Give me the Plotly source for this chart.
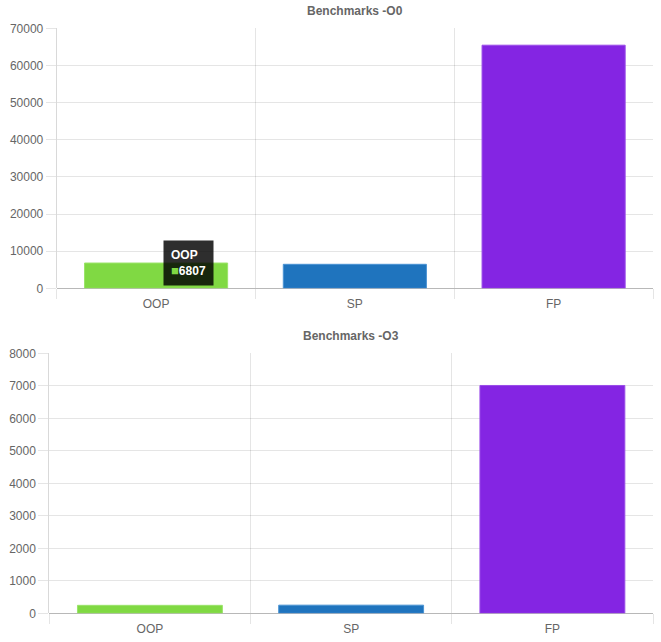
import plotly.graph_objects as go

categories = ["OOP", "SP", "FP"]
values_o0 = [6807, 6460, 65450]
values_o3 = [245, 250, 7010]
colors = ["#80d943", "#1f74be", "#8425e3"]
border_colors = ["#9be46a", "#4a93d4", "#9a4ce8"]
y_ticks_o0 = [0, 10000, 20000, 30000, 40000, 50000, 60000, 70000]
y_ticks_o3 = [0, 1000, 2000, 3000, 4000, 5000, 6000, 7000, 8000]

W, H = 661, 642
FONT = "Liberation Sans, Arial, Helvetica, sans-serif"
GRID = "rgba(0,0,0,0.1)"
ZERO = "rgba(0,0,0,0.28)"

def px_x(p):
    return p / W

def px_y(p):
    return 1 - p / H

fig = go.Figure()
fig.add_trace(go.Bar(x=categories, y=values_o0, marker=dict(color=colors, line=dict(color=border_colors, width=1)),
                     width=0.72, xaxis="x", yaxis="y", hoverinfo="skip"))
fig.add_trace(go.Bar(x=categories, y=values_o3, marker=dict(color=colors, line=dict(color=border_colors, width=1)),
                     width=0.72, xaxis="x2", yaxis="y2", hoverinfo="skip"))

def xaxis(domain, anchor):
    return dict(domain=domain, anchor=anchor, type="category", tickson="boundaries",
                showgrid=True, gridcolor=GRID, gridwidth=1, ticks="outside", ticklen=10,
                tickcolor=GRID, showline=False, zeroline=False, automargin=False,
                ticklabelstandoff=7,
                tickfont=dict(family=FONT, size=12, color="#666"), range=[-0.5, 2.5])

def yaxis(domain, anchor, ticks, top):
    return dict(domain=domain, anchor=anchor, range=[0, top], tickvals=ticks, tickformat="d",
                showgrid=True, gridcolor=GRID, ticks="outside", ticklen=10, tickcolor=GRID,
                zeroline=True, zerolinecolor=ZERO, zerolinewidth=1, automargin=False,
                showline=True, linecolor="rgba(0,0,0,0.15)", linewidth=1,
                tickfont=dict(family=FONT, size=12, color="#666"))

fig.update_layout(
    width=W, height=H, margin=dict(l=0, r=0, t=0, b=0),
    paper_bgcolor="white", plot_bgcolor="white", showlegend=False,
    xaxis=xaxis([px_x(56.7), px_x(653)], "y"),
    yaxis=yaxis([px_y(288.3), px_y(28.3)], "x", y_ticks_o0, 70000),
    xaxis2=xaxis([px_x(49.3), px_x(653)], "y2"),
    yaxis2=yaxis([px_y(613.3), px_y(353.3)], "x2", y_ticks_o3, 8000),
    annotations=[
        dict(text="<b>Benchmarks -O0</b>", xref="paper", yref="paper", x=px_x(355), y=px_y(11),
             xanchor="center", yanchor="middle", showarrow=False,
             font=dict(family=FONT, size=12, color="#666")),
        dict(text="<b>Benchmarks -O3</b>", xref="paper", yref="paper", x=px_x(351), y=px_y(336),
             xanchor="center", yanchor="middle", showarrow=False,
             font=dict(family=FONT, size=12, color="#666")),
        dict(text="<b>OOP</b><br><span style='color:%s;font-size:13px'>■</span><b>%d</b>" % (colors[0], values_o0[0]),
             xref="x", yref="y", x=categories[0], y=values_o0[0], xanchor="left", yanchor="middle",
             xshift=7, showarrow=False, align="left", bgcolor="rgba(0,0,0,0.82)", borderpad=7,
             font=dict(family=FONT, size=12, color="white")),
    ],
)

fig.write_html("out.html", config={"displayModeBar": False},
               post_script="document.body.style.margin='0';document.body.style.overflow='hidden';")
